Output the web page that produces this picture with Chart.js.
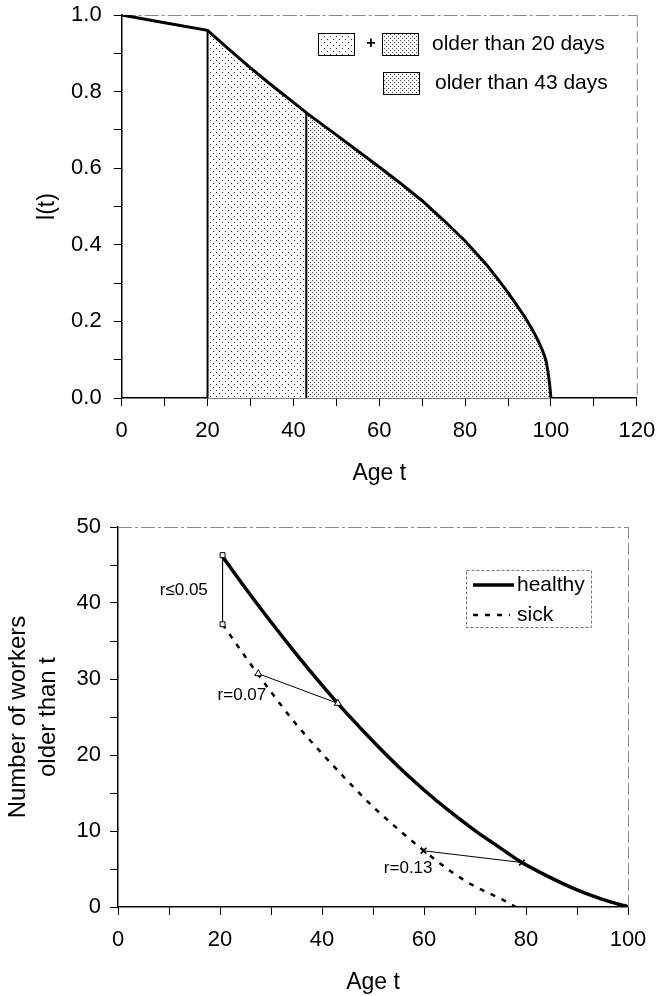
<!DOCTYPE html>
<html><head><meta charset="utf-8">
<script src="https://cdn.jsdelivr.net/npm/chart.js@4.4.1/dist/chart.umd.min.js"></script>
<style>
html,body{margin:0;padding:0;background:#fff;}
#top{position:absolute;left:0;top:0;width:657px;height:490px;}
#bot{position:absolute;left:0;top:490px;width:657px;height:506px;}
</style></head><body>
<div id="top"><canvas id="c1"></canvas></div>
<div id="bot"><canvas id="c2"></canvas></div>
<script>
// ---------- data: top chart ----------
const ageTop   = [0, 10, 20, 25, 30, 35, 40, 43, 45, 50, 55, 60, 65, 70, 75, 80, 85, 88, 90, 92, 94, 96, 97, 98, 98.8, 99.3, 99.7, 100];
const survival = [1.0, 0.98, 0.96, 0.910, 0.862, 0.816, 0.772, 0.745, 0.728, 0.687, 0.645, 0.603, 0.560, 0.515, 0.464, 0.410, 0.348, 0.305, 0.275, 0.243, 0.21, 0.172, 0.15, 0.125, 0.1, 0.07, 0.035, 0];
const areaSplit = [20, 43];
const topXLabels = [0, 20, 40, 60, 80, 100, 120];
const topYLabels = [0, 0.2, 0.4, 0.6, 0.8, 1.0];
const topLegend = ['older than 20 days', 'older than 43 days'];

// ---------- data: bottom chart ----------
const healthyAge   = [20.5, 25, 30, 35, 40, 43.1, 45, 50, 55, 60, 65, 70, 75, 79.2, 85, 90, 95, 100];
const healthyCount = [46.1, 41.95, 37.5, 33.25, 29.2, 26.8, 25.37, 21.8, 18.45, 15.4, 12.6, 10.05, 7.75, 5.85, 3.8, 2.25, 1.0, 0.0];
const sickAge   = [20.5, 25, 30, 35, 40, 45, 50, 55, 60, 65, 70, 75, 78];
const sickCount = [37.2, 32.9, 28.3, 24.0, 20.2, 16.6, 13.2, 10.2, 7.4, 4.8, 2.7, 1.1, 0.0];
const r05Age = [20.5, 20.5], r05Count = [46.3, 37.2];
const r07Age = [27.5, 43.1], r07Count = [30.7, 26.8];
const r13Age = [59.9, 79.2], r13Count = [7.4, 5.85];
const endAge = [100], endCount = [0];
const botXLabels = [0, 20, 40, 60, 80, 100];
const botYLabels = [0, 10, 20, 30, 40, 50];
const botLegend = ['healthy', 'sick'];
const rLabels = ['r≤0.05', 'r=0.07', 'r=0.13'];

Chart.defaults.font.family = "'Liberation Sans', Arial, Helvetica, sans-serif";
Chart.defaults.font.size = 22;
Chart.defaults.color = '#000';

const pts = (xs, ys) => xs.map((x, i) => ({x: x, y: ys[i]}));

function tilePattern(ctx, size, dots, color) {
  const c = document.createElement('canvas');
  c.width = size; c.height = size;
  const g = c.getContext('2d');
  g.fillStyle = '#fff'; g.fillRect(0, 0, size, size);
  g.fillStyle = color;
  dots.forEach(d => g.fillRect(d[0], d[1], 1, 1));
  return ctx.createPattern(c, 'repeat');
}

const c1 = document.getElementById('c1');
const ctx1 = c1.getContext('2d');
const sparse = tilePattern(ctx1, 6, [[0, 0], [3, 3]], '#333');
const dense = tilePattern(ctx1, 4, [[0, 0], [2, 2]], '#444');

function tickCb(list, dec) {
  return v => list.some(l => Math.abs(l - v) < 1e-6) ? (dec ? v.toFixed(dec) : String(v)) : '';
}
function gridOpts() {
  return {display: true, drawOnChartArea: false, drawTicks: true, tickLength: 8, color: '#000', lineWidth: 1};
}

const framePlugin = {
  id: 'frame',
  beforeDatasetsDraw(chart) {
    const a = chart.chartArea, g = chart.ctx;
    g.save();
    g.strokeStyle = '#8a8a8a'; g.lineWidth = 1;
    g.setLineDash([14, 3, 3, 3]);
    g.beginPath(); g.moveTo(a.left, a.top + 0.5); g.lineTo(a.right, a.top + 0.5); g.stroke();
    g.setLineDash([12, 4]);
    g.beginPath(); g.moveTo(a.right + 0.5, a.top); g.lineTo(a.right + 0.5, a.bottom); g.stroke();
    g.restore();
  }
};

// ---------- top chart ----------
const curve = pts(ageTop, survival);
const seg1 = curve.filter(p => p.x >= areaSplit[0] && p.x <= areaSplit[1]);
const seg2 = curve.filter(p => p.x >= areaSplit[1]);
const vline = a => { const p = curve.find(q => q.x === a); return [{x: a, y: 0}, {x: a, y: p.y}]; };

const topLegendPlugin = {
  id: 'topLegend',
  afterDraw(chart) {
    const g = chart.ctx;
    g.save();
    function box(x, y, pat) {
      g.fillStyle = pat; g.fillRect(x, y, 36, 22);
      g.strokeStyle = '#000'; g.lineWidth = 1; g.strokeRect(x + 0.5, y + 0.5, 36, 22);
    }
    box(318, 33, sparse);
    box(382, 33, dense);
    box(383, 72, dense);
    g.fillStyle = '#000';
    g.font = "bold 16px 'Liberation Sans', Arial, sans-serif";
    g.textAlign = 'center'; g.textBaseline = 'middle';
    g.fillText('+', 371, 44);
    g.font = "21px 'Liberation Sans', Arial, sans-serif";
    g.textAlign = 'left';
    g.fillText(topLegend[0], 432, 44);
    g.fillText(topLegend[1], 435, 83);
    g.restore();
  }
};

new Chart(c1, {
  type: 'line',
  data: {
    datasets: [
      {data: curve, borderColor: '#000', borderWidth: 3, pointRadius: 0, tension: 0, fill: false, order: 0},
      {data: vline(areaSplit[0]), borderColor: '#000', borderWidth: 2, pointRadius: 0, fill: false, order: 1},
      {data: vline(areaSplit[1]), borderColor: '#000', borderWidth: 2, pointRadius: 0, fill: false, order: 1},
      {data: seg1, borderWidth: 0, pointRadius: 0, tension: 0, fill: 'origin', backgroundColor: sparse, order: 3},
      {data: seg2, borderWidth: 0, pointRadius: 0, tension: 0, fill: 'origin', backgroundColor: dense, order: 3}
    ]
  },
  options: {
    responsive: true, maintainAspectRatio: false, animation: false, devicePixelRatio: 1,
    layout: {padding: {left: 0, top: 15, right: 20.2, bottom: 0}},
    plugins: {legend: {display: false}, tooltip: {enabled: false}},
    scales: {
      x: {
        type: 'linear', min: 0, max: 120,
        ticks: {stepSize: 10, autoSkip: false, maxRotation: 0, padding: 12, callback: tickCb(topXLabels, 0)},
        grid: gridOpts(), border: {display: true, color: '#000', width: 1.5},
        title: {display: true, text: 'Age t', font: {size: 23}, padding: {top: 0, bottom: 3}},
        afterFit: s => { s.height = 92; s.paddingLeft = 0; s.paddingRight = 0; }
      },
      y: {
        type: 'linear', min: 0, max: 1,
        ticks: {stepSize: 0.1, autoSkip: false, padding: 12, callback: tickCb(topYLabels, 1)},
        grid: gridOpts(), border: {display: true, color: '#000', width: 1.5},
        title: {display: true, text: 'l(t)', font: {size: 23}, padding: {top: 34, bottom: 0}},
        afterFit: s => { s.width = 121.7; s.paddingTop = 0; s.paddingBottom = 0; }
      }
    }
  },
  plugins: [framePlugin, topLegendPlugin]
});

// ---------- bottom chart ----------
const c2 = document.getElementById('c2');

const botLegendPlugin = {
  id: 'botLegend',
  afterDraw(chart) {
    const g = chart.ctx;
    g.save();
    g.strokeStyle = '#777'; g.lineWidth = 1; g.setLineDash([3, 2]);
    g.strokeRect(466.5, 80.5, 125, 57);
    g.setLineDash([]);
    g.strokeStyle = '#000'; g.lineWidth = 3.5;
    g.beginPath(); g.moveTo(473, 95); g.lineTo(514, 95); g.stroke();
    g.lineWidth = 2.5; g.setLineDash([5, 7]);
    g.beginPath(); g.moveTo(473, 125); g.lineTo(510, 125); g.stroke();
    g.setLineDash([]);
    g.fillStyle = '#000';
    g.font = "21px 'Liberation Sans', Arial, sans-serif";
    g.textAlign = 'left'; g.textBaseline = 'middle';
    g.fillText(botLegend[0], 517, 95);
    g.fillText(botLegend[1], 517, 125);
    g.restore();
  }
};

const rLabelPlugin = {
  id: 'rLabels',
  afterDatasetsDraw(chart) {
    const g = chart.ctx, sx = chart.scales.x, sy = chart.scales.y;
    const anchors = [[12.9, 41.7], [24.3, 27.9], [56.9, 5.1]];
    g.save();
    g.fillStyle = '#000';
    g.font = "17px 'Liberation Sans', Arial, sans-serif";
    g.textAlign = 'center'; g.textBaseline = 'middle';
    rLabels.forEach((t, i) => g.fillText(t, sx.getPixelForValue(anchors[i][0]), sy.getPixelForValue(anchors[i][1])));
    g.restore();
  }
};

const markerDs = (data, style, r) => ({
  data: data, borderColor: '#000', borderWidth: 1, fill: false, order: 0,
  pointStyle: style, pointRadius: r, pointBackgroundColor: '#fff', pointBorderColor: '#000', pointBorderWidth: style === 'crossRot' ? 1.6 : 1
});

new Chart(c2, {
  type: 'line',
  data: {
    datasets: [
      markerDs(pts(r05Age, r05Count), 'rect', 3.5),
      markerDs(pts(r07Age, r07Count), 'triangle', 4),
      markerDs(pts(r13Age, r13Count), 'crossRot', 4),
      Object.assign(markerDs(pts(endAge, endCount), 'crossRot', 4), {showLine: false}),
      {data: pts(healthyAge, healthyCount), borderColor: '#000', borderWidth: 3.5, pointRadius: 0, cubicInterpolationMode: 'monotone', fill: false, order: 1},
      {data: pts(sickAge, sickCount), borderColor: '#000', borderWidth: 2.5, borderDash: [5, 7], pointRadius: 0, cubicInterpolationMode: 'monotone', fill: false, order: 1}
    ]
  },
  options: {
    responsive: true, maintainAspectRatio: false, animation: false, devicePixelRatio: 1,
    layout: {padding: {left: 0, top: 37, right: 29, bottom: 0}},
    plugins: {legend: {display: false}, tooltip: {enabled: false}},
    scales: {
      x: {
        type: 'linear', min: 0, max: 100,
        ticks: {stepSize: 10, autoSkip: false, maxRotation: 0, padding: 12, callback: tickCb(botXLabels, 0)},
        grid: gridOpts(), border: {display: true, color: '#000', width: 1.5},
        title: {display: true, text: 'Age t', font: {size: 23}, padding: {top: 0, bottom: 0}},
        afterFit: s => { s.height = 89; s.paddingLeft = 0; s.paddingRight = 0; }
      },
      y: {
        type: 'linear', min: 0, max: 50,
        ticks: {stepSize: 5, autoSkip: false, padding: 9, callback: tickCb(botYLabels, 0)},
        grid: gridOpts(), border: {display: true, color: '#000', width: 1.5},
        title: {display: true, text: ['Number of workers', 'older than t'], font: {size: 24, lineHeight: 1.25}, padding: {top: 3, bottom: 0}},
        afterFit: s => { s.width = 118; s.paddingTop = 0; s.paddingBottom = 0; }
      }
    }
  },
  plugins: [framePlugin, botLegendPlugin, rLabelPlugin]
});
</script>
</body></html>
